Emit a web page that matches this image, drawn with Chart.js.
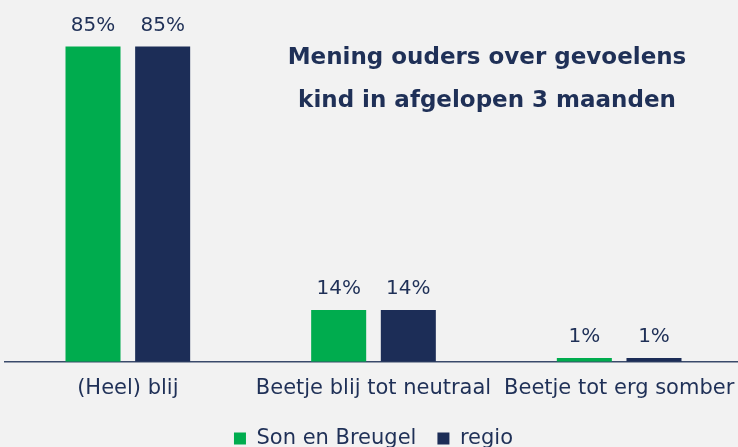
<!DOCTYPE html>
<html>
<head>
<meta charset="utf-8">
<script src="https://cdn.jsdelivr.net/npm/chart.js@4.4.1/dist/chart.umd.min.js"></script>
<style>
  html, body { margin: 0; padding: 0; background: #f2f2f2; overflow: hidden; }
  #wrap { width: 738px; height: 447px; overflow: hidden; }
</style>
</head>
<body>
<div id="wrap"><canvas id="chart" width="742" height="459"></canvas></div>
<script>
// data
const categories = ["(Heel) blij", "Beetje blij tot neutraal", "Beetje tot erg somber"];
const sonEnBreugel = [85, 14, 1];
const regio = [85, 14, 1];
const titleLines = ["Mening ouders over gevoelens", "kind in afgelopen 3 maanden"];

const GREEN = "#00ac4e";
const NAVY = "#1c2d57";
const TEXT = "#1f3057";
const FONT = "'DejaVu Sans', sans-serif";

// value labels above each bar + the title placed inside the plot area
const overlay = {
  id: "overlay",
  afterDatasetsDraw(chart) {
    const ctx = chart.ctx;
    ctx.save();
    ctx.fillStyle = TEXT;
    ctx.font = "20px " + FONT;
    ctx.textAlign = "center";
    ctx.textBaseline = "bottom";
    chart.data.datasets.forEach((ds, i) => {
      chart.getDatasetMeta(i).data.forEach((bar, j) => {
        ctx.fillText(ds.data[j] + "%", bar.x, bar.y - 11);
      });
    });
    ctx.font = "bold 23px " + FONT;
    ctx.textBaseline = "middle";
    ctx.fillText(titleLines[0], 487, 58);
    ctx.fillText(titleLines[1], 487, 101);
    ctx.restore();
  },
};

new Chart(document.getElementById("chart"), {
  type: "bar",
  data: {
    labels: categories,
    datasets: [
      { label: "Son en Breugel", data: sonEnBreugel, backgroundColor: GREEN, borderWidth: 0 },
      { label: "regio", data: regio, backgroundColor: NAVY, borderWidth: 0 },
    ],
  },
  options: {
    responsive: false,
    animation: false,
    devicePixelRatio: 1,
    categoryPercentage: 0.567,
    barPercentage: 0.79,
    layout: { padding: { top: 28, left: 5, right: 0, bottom: 0 } },
    plugins: {
      legend: {
        position: "bottom",
        labels: {
          color: TEXT,
          font: { family: FONT, size: 21 },
          boxWidth: 12,
          boxHeight: 12,
          padding: 21,
        },
      },
      tooltip: { enabled: false },
    },
    scales: {
      x: {
        grid: { display: false },
        border: { display: true, color: "#3a4a6b", width: 1.5 },
        ticks: {
          color: TEXT,
          font: { family: FONT, size: 21 },
          padding: 6,
          maxRotation: 0,
        },
      },
      y: { display: false, min: 0, max: 90 },
    },
  },
  plugins: [overlay],
});
</script>
</body>
</html>
